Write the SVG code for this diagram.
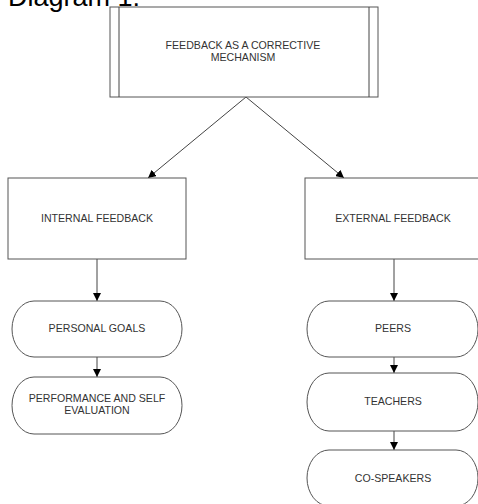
<svg xmlns="http://www.w3.org/2000/svg" width="478" height="504" viewBox="0 0 478 504">
<style>
.box{fill:#fff;stroke:#555;stroke-width:1}
.t{font-family:"Liberation Sans",Arial,sans-serif;font-size:10.6px;fill:#333;text-anchor:middle}
.c{stroke:#444;stroke-width:1;fill:none}
</style>
<defs>
<marker id="ah" viewBox="0 0 10 10" refX="10" refY="5" markerWidth="8" markerHeight="8" markerUnits="userSpaceOnUse" orient="auto">
<path d="M0,0 L10,5 L0,10 z" fill="#000"/>
</marker>
</defs>
<rect width="478" height="504" fill="#fff"/>
<text x="8" y="6" font-family="Liberation Sans,Arial,sans-serif" font-size="27" fill="#000">Diagram 1:</text>
<g id="connectors">
<line class="c" x1="246" y1="97" x2="148" y2="178" marker-end="url(#ah)"/>
<line class="c" x1="246" y1="97" x2="344" y2="178" marker-end="url(#ah)"/>
<line class="c" x1="97" y1="259" x2="97" y2="301" marker-end="url(#ah)"/>
<line class="c" x1="97" y1="357" x2="97" y2="377" marker-end="url(#ah)"/>
<line class="c" x1="394" y1="259" x2="394" y2="301" marker-end="url(#ah)"/>
<line class="c" x1="394" y1="357" x2="394" y2="373" marker-end="url(#ah)"/>
<line class="c" x1="394" y1="431" x2="394" y2="450" marker-end="url(#ah)"/>
</g>
<g id="root">
<rect class="box" x="110" y="7" width="268" height="90"/>
<line class="c" x1="119" y1="7" x2="119" y2="97"/>
<line class="c" x1="369" y1="7" x2="369" y2="97"/>
<text class="t" x="243" y="49">FEEDBACK AS A CORRECTIVE</text>
<text class="t" x="243" y="61">MECHANISM</text>
</g>
<g id="internal">
<rect class="box" x="8" y="178" width="178" height="81"/>
<text class="t" x="97" y="222">INTERNAL FEEDBACK</text>
</g>
<g id="external">
<rect class="box" x="305" y="178" width="180" height="81"/>
<text class="t" x="393" y="222">EXTERNAL FEEDBACK</text>
</g>
<g id="personal-goals">
<path class="box" d="M34,301 H160 A22,28 0 0 1 160,357 H34 A22,28 0 0 1 34,301 Z"/>
<text class="t" x="97" y="332">PERSONAL GOALS</text>
</g>
<g id="performance">
<path class="box" d="M34,377 H160 A22,28.5 0 0 1 160,434 H34 A22,28.5 0 0 1 34,377 Z"/>
<text class="t" x="97" y="402">PERFORMANCE AND SELF</text>
<text class="t" x="97" y="414">EVALUATION</text>
</g>
<g id="peers">
<path class="box" d="M329,301 H456 A22,28 0 0 1 456,357 H329 A22,28 0 0 1 329,301 Z"/>
<text class="t" x="393" y="332">PEERS</text>
</g>
<g id="teachers">
<path class="box" d="M329,373 H456 A22,29 0 0 1 456,431 H329 A22,29 0 0 1 329,373 Z"/>
<text class="t" x="393" y="405">TEACHERS</text>
</g>
<g id="co-speakers">
<path class="box" d="M329,450 H456 A22,28 0 0 1 456,506 H329 A22,28 0 0 1 329,450 Z"/>
<text class="t" x="393" y="482">CO-SPEAKERS</text>
</g>
</svg>
